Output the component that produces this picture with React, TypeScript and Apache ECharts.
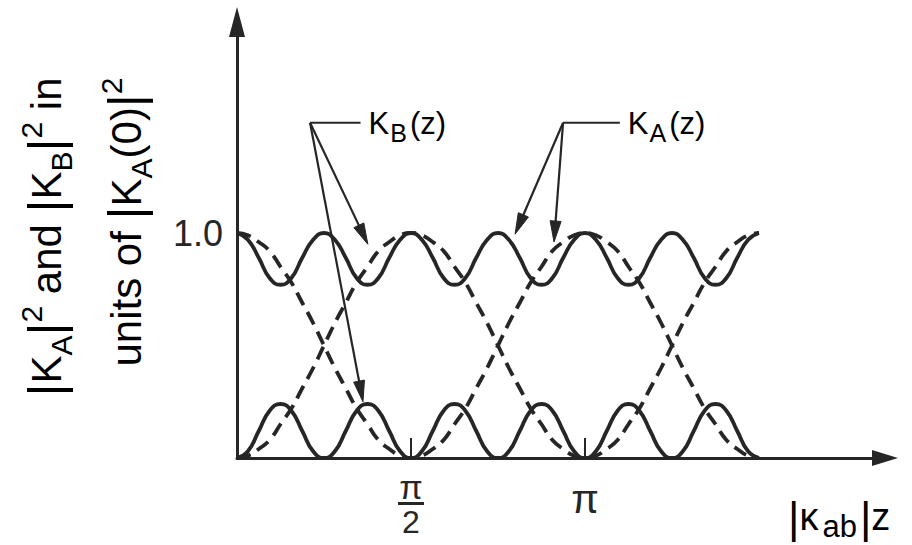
import React, { useEffect, useRef } from 'react';
import * as echarts from 'echarts';

const INK = '#262626';
const FONT = '"Liberation Sans", Arial, sans-serif';

// Samples are taken every π/32 along |κab|z; the x axis is in units of π.
const Z_STEP = 1 / 32;

// Synchronous exchange (dashed): |KA|² and |KB|²
const syncA = [
  1.0, 0.99, 0.96, 0.92, 0.85, 0.78, 0.69, 0.6, 0.5, 0.4, 0.31, 0.22, 0.15, 0.08, 0.04, 0.01, 0.0,
  0.01, 0.04, 0.08, 0.15, 0.22, 0.31, 0.4, 0.5, 0.6, 0.69, 0.78, 0.85, 0.92, 0.96, 0.99, 1.0,
  0.99, 0.96, 0.92, 0.85, 0.78, 0.69, 0.6, 0.5, 0.4, 0.31, 0.22, 0.15, 0.08, 0.04, 0.01, 0.0,
];
const syncB = [
  0.0, 0.01, 0.04, 0.08, 0.15, 0.22, 0.31, 0.4, 0.5, 0.6, 0.69, 0.78, 0.85, 0.92, 0.96, 0.99, 1.0,
  0.99, 0.96, 0.92, 0.85, 0.78, 0.69, 0.6, 0.5, 0.4, 0.31, 0.22, 0.15, 0.08, 0.04, 0.01, 0.0,
  0.01, 0.04, 0.08, 0.15, 0.22, 0.31, 0.4, 0.5, 0.6, 0.69, 0.78, 0.85, 0.92, 0.96, 0.99, 1.0,
];

// Mismatched coupling (solid): only partial, faster exchange
const mismA = [
  1.0, 0.97, 0.89, 0.8, 0.77, 0.8, 0.89, 0.97,
  1.0, 0.97, 0.89, 0.8, 0.77, 0.8, 0.89, 0.97,
  1.0, 0.97, 0.89, 0.8, 0.77, 0.8, 0.89, 0.97,
  1.0, 0.97, 0.89, 0.8, 0.77, 0.8, 0.89, 0.97,
  1.0, 0.97, 0.89, 0.8, 0.77, 0.8, 0.89, 0.97,
  1.0, 0.97, 0.89, 0.8, 0.77, 0.8, 0.89, 0.97,
  1.0,
];
const mismB = [
  0.0, 0.03, 0.12, 0.21, 0.24, 0.21, 0.12, 0.03,
  0.0, 0.03, 0.12, 0.21, 0.24, 0.21, 0.12, 0.03,
  0.0, 0.03, 0.12, 0.21, 0.24, 0.21, 0.12, 0.03,
  0.0, 0.03, 0.12, 0.21, 0.24, 0.21, 0.12, 0.03,
  0.0, 0.03, 0.12, 0.21, 0.24, 0.21, 0.12, 0.03,
  0.0, 0.03, 0.12, 0.21, 0.24, 0.21, 0.12, 0.03,
  0.0,
];

const xTicks = [0.5, 1];
const yTicks = [1];

// Leader annotations in data coordinates [x (π units), y]
const kbJoint = [0.21, 1.49];
const kbLineEnd = [0.355, 1.49];
const kbTips = [
  [0.376, 0.95],
  [0.362, 0.25],
];
const kaJoint = [0.937, 1.49];
const kaLineEnd = [1.1, 1.49];
const kaTips = [
  [0.799, 0.995],
  [0.911, 0.96],
];

const toPoints = (vals: number[]) => vals.map((v, i) => [i * Z_STEP, v]);

const lineSeries = (vals: number[], dashed: boolean) => ({
  type: 'line',
  data: toPoints(vals),
  smooth: true,
  symbol: 'none',
  clip: false,
  silent: true,
  lineStyle: { color: INK, width: 3.8, type: dashed ? [14, 8] : 'solid', cap: 'butt' },
});

function arrowHead(from: number[], tip: number[], len = 21, wid = 11) {
  const dx = tip[0] - from[0];
  const dy = tip[1] - from[1];
  const L = Math.hypot(dx, dy);
  const ux = dx / L;
  const uy = dy / L;
  const nx = -uy;
  const ny = ux;
  const bx = tip[0] - ux * len;
  const by = tip[1] - uy * len;
  return {
    base: [bx + ux * 4, by + uy * 4],
    pts: [
      [tip[0], tip[1]],
      [bx + (nx * wid) / 2, by + (ny * wid) / 2],
      [bx - (nx * wid) / 2, by - (ny * wid) / 2],
    ],
  };
}

const labelRich = {
  k: { fontFamily: FONT, fontSize: 31, lineHeight: 44, verticalAlign: 'middle', color: INK },
  s: { fontFamily: FONT, fontSize: 25, lineHeight: 27, verticalAlign: 'bottom', color: INK, padding: [0, 3, 0, 1] },
};

const titleRich = {
  k: { fontFamily: FONT, fontSize: 42, lineHeight: 60, verticalAlign: 'middle', color: INK },
  v: { fontFamily: FONT, fontSize: 50, lineHeight: 60, verticalAlign: 'middle', color: INK },
  s: { fontFamily: FONT, fontSize: 30, lineHeight: 34, verticalAlign: 'bottom', color: INK },
  p: { fontFamily: FONT, fontSize: 30, lineHeight: 34, verticalAlign: 'top', color: INK },
};

export default function App() {
  const ref = useRef<HTMLDivElement>(null);

  useEffect(() => {
    if (!ref.current) return;
    const chart = echarts.init(ref.current, undefined, { renderer: 'svg' });

    chart.setOption({
      animation: false,
      backgroundColor: '#ffffff',
      grid: { left: 237, right: 27, top: 22, bottom: 87 },
      xAxis: {
        type: 'value',
        min: 0,
        max: 648 / 348,
        axisLine: {
          show: true,
          onZero: false,
          symbol: ['none', 'triangle'],
          symbolSize: [16, 26],
          lineStyle: { color: INK, width: 3 },
        },
        axisTick: {
          show: true,
          inside: true,
          length: 20,
          customValues: xTicks,
          lineStyle: { color: INK, width: 2 },
        },
        splitLine: { show: false },
        axisLabel: {
          customValues: xTicks,
          margin: 16,
          formatter: (v: number) =>
            v === 0.5 ? '{n|π}\n{bar| }\n{d|2}' : v === 1 ? '{p|π}' : '',
          rich: {
            n: { fontFamily: FONT, fontSize: 34, lineHeight: 26, color: INK, align: 'center' },
            bar: { width: 26, height: 3, lineHeight: 7, backgroundColor: INK, align: 'center' },
            d: { fontFamily: FONT, fontSize: 32, lineHeight: 30, color: INK, align: 'center' },
            p: { fontFamily: FONT, fontSize: 40, lineHeight: 40, color: INK, padding: [10, 0, 0, 0] },
          },
        },
      },
      yAxis: {
        type: 'value',
        min: 0,
        max: 436 / 225,
        axisLine: {
          show: true,
          onZero: false,
          symbol: ['none', 'triangle'],
          symbolSize: [16, 30],
          lineStyle: { color: INK, width: 3 },
        },
        axisTick: { show: false },
        splitLine: { show: false },
        axisLabel: {
          customValues: yTicks,
          margin: 14,
          formatter: (v: number) => (v === 1 ? '1.0' : ''),
          fontFamily: FONT,
          fontSize: 36,
          color: INK,
        },
      },
      series: [
        lineSeries(syncA, true),
        lineSeries(syncB, true),
        lineSeries(mismA, false),
        lineSeries(mismB, false),
      ],
    });

    const px = (d: number[]) => chart.convertToPixel({ gridIndex: 0 }, d) as number[];

    const leader = (joint: number[], lineEnd: number[], tips: number[][], text: string) => {
      const j = px(joint);
      const e = px(lineEnd);
      const els: any[] = [
        {
          type: 'polyline',
          shape: { points: [e, j] },
          style: { stroke: INK, lineWidth: 2.2, fill: 'none' },
        },
      ];
      tips.forEach((t) => {
        const tp = px(t);
        const h = arrowHead(j, tp);
        els.push({
          type: 'polyline',
          shape: { points: [j, h.base] },
          style: { stroke: INK, lineWidth: 2.2, fill: 'none' },
        });
        els.push({
          type: 'polygon',
          shape: { points: h.pts },
          style: { fill: INK, stroke: INK, lineWidth: 1 },
        });
      });
      els.push({
        type: 'text',
        x: e[0] + 8,
        y: e[1] + 1,
        style: { text, rich: labelRich, align: 'left', verticalAlign: 'middle' },
      });
      return els;
    };

    chart.setOption({
      graphic: [
        ...leader(kbJoint, kbLineEnd, kbTips, '{k|K}{s|B}{k|(z)}'),
        ...leader(kaJoint, kaLineEnd, kaTips, '{k|K}{s|A}{k|(z)}'),
        {
          type: 'text',
          x: 46,
          y: 237,
          rotation: Math.PI / 2,
          style: {
            text: '{v||}{k|K}{s|A}{v||}{p|2}{k| and }{v||}{k|K}{s|B}{v||}{p|2}{k| in}',
            rich: titleRich,
            align: 'center',
            verticalAlign: 'middle',
          },
        },
        {
          type: 'text',
          x: 126,
          y: 222,
          rotation: Math.PI / 2,
          style: {
            text: '{k|units of }{v||}{k|K}{s|A}{k|(0)}{v||}{p|2}',
            rich: titleRich,
            align: 'center',
            verticalAlign: 'middle',
          },
        },
        {
          type: 'text',
          x: 788,
          y: 517,
          style: {
            text: '{v||}{k|κ}{s|ab}{v||}{k|z}',
            rich: {
              k: { fontFamily: FONT, fontSize: 38, lineHeight: 50, verticalAlign: 'middle', color: INK },
              v: { fontFamily: FONT, fontSize: 44, lineHeight: 50, verticalAlign: 'middle', color: INK },
              s: { fontFamily: FONT, fontSize: 31, lineHeight: 32, verticalAlign: 'bottom', color: INK, padding: [0, 3, 0, 4] },
            },
            align: 'left',
            verticalAlign: 'middle',
          },
        },
      ],
    });

    return () => chart.dispose();
  }, []);

  return (
    <div
      ref={ref}
      style={{ position: 'fixed', left: 0, top: 0, width: 912, height: 545, background: '#fff' }}
    />
  );
}
